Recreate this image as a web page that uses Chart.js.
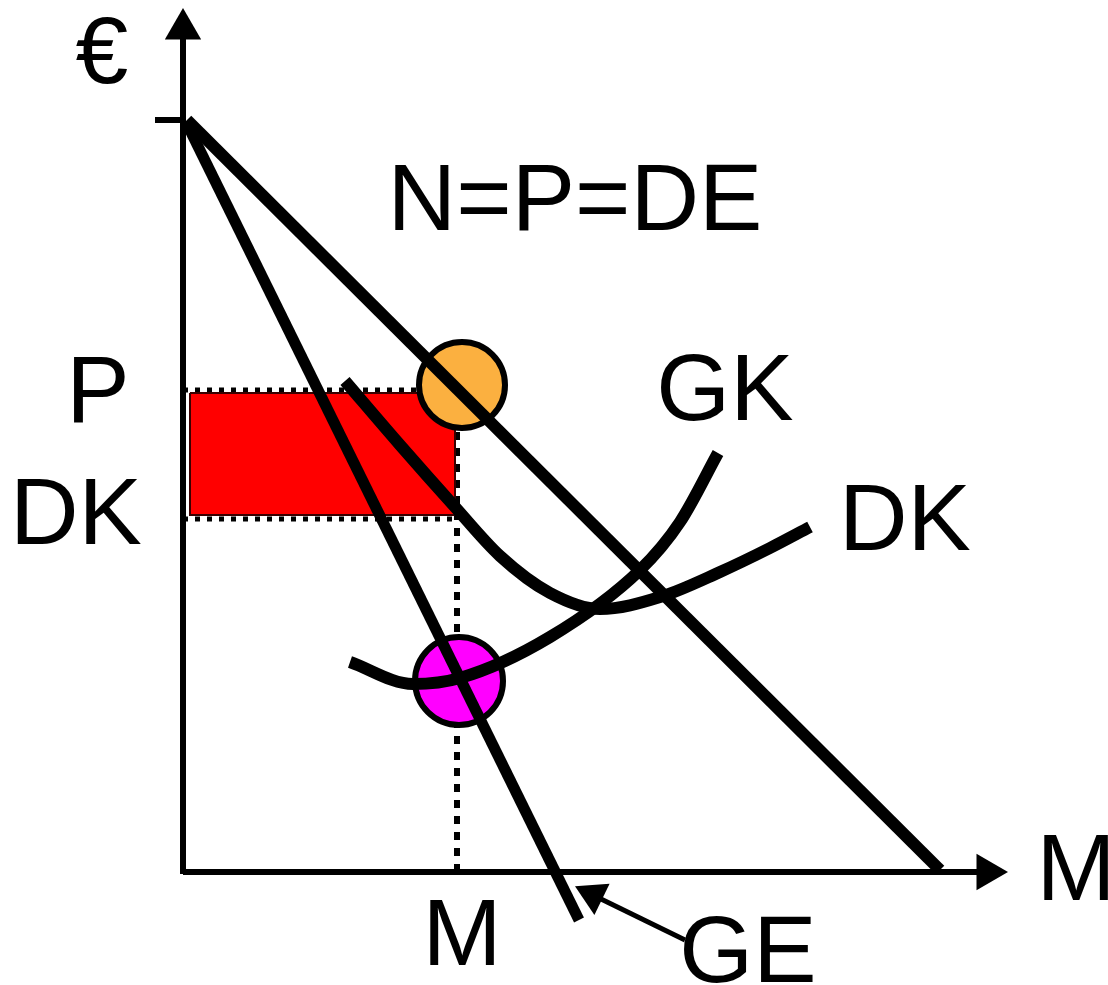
<!DOCTYPE html>
<html>
<head>
<meta charset="utf-8">
<script src="https://cdn.jsdelivr.net/npm/chart.js@4/dist/chart.umd.min.js"></script>
<style>
  html, body { margin: 0; padding: 0; background: #fff; }
  #wrap { width: 1108px; height: 985px; }
</style>
</head>
<body>
<div id="wrap"><canvas id="myChart" width="1108" height="985"></canvas></div>
<script>
// quantities (x) and euros (y), origin at the corner of the axes
const demand = [{x: 4, y: 752}, {x: 757, y: 2}];                 // N=P=DE
const marginalRevenue = [{x: 3, y: 750}, {x: 396, y: -48}];      // GE
const averageCost = [                                           // DK
  {x: 162, y: 491}, {x: 217, y: 427}, {x: 272, y: 365}, {x: 317, y: 316},
  {x: 367, y: 279}, {x: 417, y: 263}, {x: 477, y: 275}, {x: 537, y: 300},
  {x: 587, y: 324}, {x: 627, y: 345}
];
const marginalCost = [                                          // GK
  {x: 167, y: 210}, {x: 230, y: 188}, {x: 277, y: 194}, {x: 367, y: 235},
  {x: 457, y: 302}, {x: 497, y: 350}, {x: 535, y: 419}
];
const priceM = 482;      // P
const costM = 353;       // DK
const quantityM = 274;   // M
const monopolyPoint = [{x: 279, y: 487}];
const cournotPoint = [{x: 276, y: 191}];
const profitTop = [{x: 7, y: 479}, {x: 272, y: 479}];
const profitBottom = 357;
const priceTick = [{x: -28, y: 752}, {x: 0, y: 752}];

const labels = [
  {text: '€', x: 102, y: 83},
  {text: 'N=P=DE', x: 575, y: 230},
  {text: 'P', x: 98, y: 422},
  {text: 'DK', x: 76, y: 544},
  {text: 'GK', x: 725, y: 420},
  {text: 'DK', x: 905, y: 550},
  {text: 'M', x: 462, y: 965},
  {text: 'M', x: 1076, y: 900},
  {text: 'GE', x: 748, y: 982}
];

const line = (data, extra) => Object.assign({
  data: data, showLine: true, pointRadius: 0, borderColor: '#000',
  backgroundColor: '#000', fill: false, tension: 0
}, extra);

const labelPlugin = {
  id: 'labels',
  afterDraw(chart) {
    const c = chart.ctx;
    c.save();
    c.fillStyle = '#000';
    c.font = '95px "Liberation Sans", Arial, sans-serif';
    c.textAlign = 'center';
    c.textBaseline = 'alphabetic';
    labels.forEach(l => c.fillText(l.text, l.x, l.y));
    c.restore();
  }
};

const ctx = document.getElementById('myChart');

new Chart(ctx, {
  type: 'scatter',
  data: {
    datasets: [
      // curves on top
      line(demand, {borderWidth: 12, order: 1}),
      line(marginalRevenue, {borderWidth: 11, order: 1}),
      line(averageCost, {borderWidth: 12, cubicInterpolationMode: 'monotone', order: 1}),
      line(marginalCost, {borderWidth: 12, cubicInterpolationMode: 'monotone', order: 1}),
      // axes
      line([{x: 0, y: -2}, {x: 0, y: 835}], {borderWidth: 6, order: 2}),
      line([{x: 0, y: 0}, {x: 795, y: 0}], {borderWidth: 6, order: 2}),
      line(priceTick, {borderWidth: 6, order: 2}),
      line([{x: 0, y: 843}], {showLine: false, pointStyle: 'triangle', pointRadius: 21, borderWidth: 0, order: 2}),
      line([{x: 804, y: 0}], {showLine: false, pointStyle: 'triangle', pointRadius: 21, rotation: 90, borderWidth: 0, order: 2}),
      // arrow to GE
      line([{x: 502, y: -68}, {x: 418, y: -27}], {borderWidth: 5, order: 2}),
      line([{x: 410, y: -23}], {showLine: false, pointStyle: 'triangle', pointRadius: 20, rotation: -64, borderWidth: 0, order: 2}),
      // points
      line(monopolyPoint, {showLine: false, pointRadius: 43, pointBackgroundColor: '#FBB040', pointBorderColor: '#000', pointBorderWidth: 6, order: 3}),
      line(cournotPoint, {showLine: false, pointRadius: 44, pointBackgroundColor: '#FF00FF', pointBorderColor: '#000', pointBorderWidth: 6, order: 3}),
      // profit rectangle
      line([{x: 7, y: 479}, {x: 272, y: 479}, {x: 272, y: 357}, {x: 7, y: 357}, {x: 7, y: 479}],
           {borderWidth: 2, borderColor: '#3a0000', order: 4}),
      line(profitTop, {borderWidth: 0, backgroundColor: '#FF0000', fill: {value: profitBottom}, order: 5}),
      // dotted guides
      line([{x: 0, y: priceM}, {x: quantityM, y: priceM}], {borderWidth: 5, borderDash: [5, 7], order: 6}),
      line([{x: 0, y: costM}, {x: quantityM, y: costM}], {borderWidth: 5, borderDash: [5, 7], order: 6}),
      line([{x: quantityM, y: 0}, {x: quantityM, y: 479}], {borderWidth: 6, borderDash: [8, 8], order: 6})
    ]
  },
  options: {
    responsive: false,
    devicePixelRatio: 1,
    animation: false,
    layout: { padding: 0, autoPadding: false },
    plugins: { legend: { display: false }, tooltip: { enabled: false } },
    scales: {
      x: { type: 'linear', display: false, min: -183, max: 925 },
      y: { type: 'linear', display: false, min: -113, max: 872 }
    }
  },
  plugins: [labelPlugin]
});
</script>
</body>
</html>
